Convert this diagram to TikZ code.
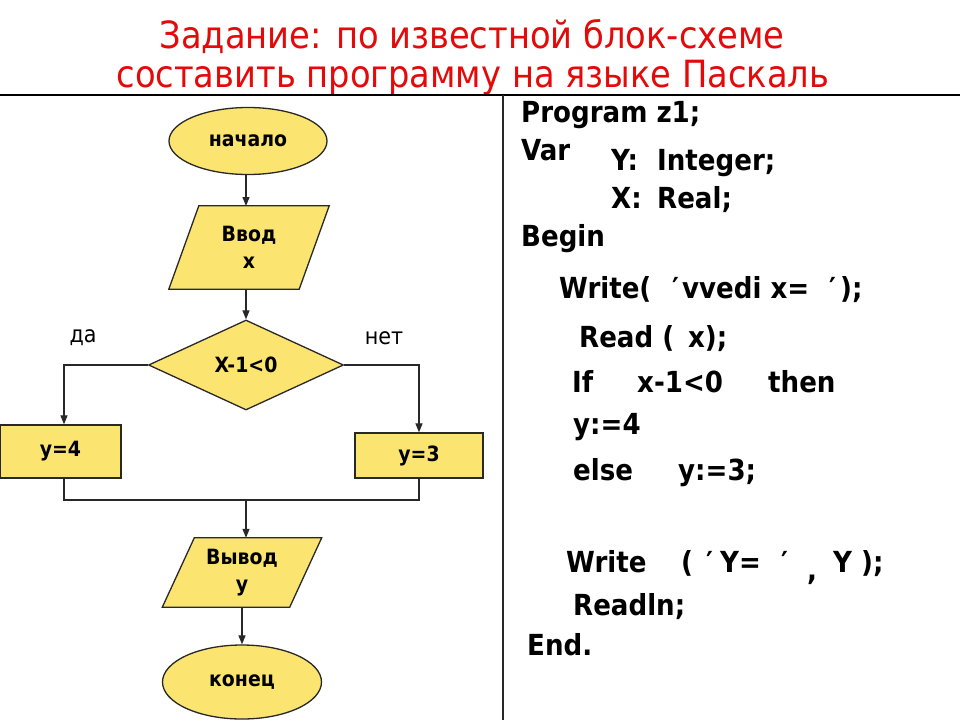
\documentclass[tikz,border=0pt]{standalone}
\usepackage{fontspec}
\setmainfont{DejaVu Sans Condensed}
\usetikzlibrary{shapes.geometric,arrows.meta,calc}
\definecolor{boxyellow}{RGB}{251,229,112}
\definecolor{titlered}{RGB}{228,10,10}
\definecolor{edge}{RGB}{40,40,40}
\begin{document}
\begin{tikzpicture}[x=1pt,y=-1pt,
  fc/.style={draw=edge,line width=1.3pt,fill=boxyellow,inner sep=0pt,font=\bfseries\fontsize{21}{24}\selectfont,align=center},
  term/.style={fc,ellipse},
  proc/.style={fc,rectangle},
  cond/.style={fc,diamond},
  iobox/.style={inner sep=0pt,font=\bfseries\fontsize{21}{27}\selectfont,align=center},
  para/.style={draw=edge,line width=1.3pt,fill=boxyellow},
  conn/.style={draw=edge,line width=1.2pt},
  arr/.style={conn,-{Triangle[length=9pt,width=7pt]}},
  lbl/.style={font=\fontsize{23}{26}\selectfont},
  code/.style={anchor=base west,inner sep=0pt,font=\bfseries\fontsize{29}{32}\selectfont},
  ttl/.style={text=titlered,font=\fontsize{37.5}{42}\selectfont}
]
\useasboundingbox (0,0) rectangle (960,720);
\fill[white] (0,0) rectangle (960,720);

% title
\node[ttl] (t1) at (472,37) {Задание: по известной блок-схеме};
\node[ttl] (t2) at (473,78) {составить программу на языке Паскаль};

% frame lines
\coordinate (hl) at (0,95);
\coordinate (hr) at (960,95);
\coordinate (vt) at (503,95);
\coordinate (vb) at (503,720);
\draw[line width=1.5pt,black] (hl) -- (hr);
\draw[line width=2pt,edge] (vt) -- (vb);

% flowchart
\node[term,minimum width=158pt,minimum height=67pt] (start) at (248,141) {начало};

\node[iobox,minimum width=130pt,minimum height=83pt] (in) at (249,247.5) {};
\path[para] ($(in.north west)+(15,0)$) -- ($(in.north east)+(15,0)$) -- ($(in.south east)+(-15,0)$) -- ($(in.south west)+(-15,0)$) -- cycle;
\node[iobox,minimum width=130pt,minimum height=83pt] (intext) at (in.center) {Ввод\\x};

\node[cond,minimum width=195pt,minimum height=90pt] (dec) at (246,365) {X-1<0};

\node[proc,minimum width=121pt,minimum height=53pt] (b4) at (60.5,451.5) {y=4};
\node[proc,minimum width=128pt,minimum height=45pt] (b3) at (419,455.5) {y=3};

\node[iobox,minimum width=127pt,minimum height=69pt] (out) at (242,572.5) {};
\path[para] ($(out.north west)+(16,0)$) -- ($(out.north east)+(16,0)$) -- ($(out.south east)+(-16,0)$) -- ($(out.south west)+(-16,0)$) -- cycle;
\node[iobox,minimum width=127pt,minimum height=69pt] (outtext) at (out.center) {Вывод\\y};

\node[term,minimum width=159pt,minimum height=74pt] (end) at (242,682) {конец};

\node[lbl] (da) at (83,338) {да};
\node[lbl] (net) at (384,338) {нет};

\coordinate (mrg) at (246,500);

\draw[arr] (start.south -| 246,0) -- (246,206);
\draw[arr] (246,289) -- (dec.north);
\draw[arr] (dec.west) -| ([xshift=3.5pt]b4.north);
\draw[arr] (dec.east) -| (b3.north);
\draw[conn] ([xshift=3.5pt]b4.south) |- (mrg) -| (b3.south);
\draw[arr] (mrg) -- (mrg |- out.north);
\draw[arr] (out.south -| end.north) -- (end.north);

% code
\node[code] (c1) at (521,122) {Program z1;};
\node[code] (c2) at (521,160) {Var};
\node[code] (c3a) at (611,170) {Y:};
\node[code] (c3b) at (657,170) {Integer;};
\node[code] (c4a) at (611,208) {X:};
\node[code] (c4b) at (657,208) {Real;};
\node[code] (c5) at (521,246) {Begin};
\node[code] (c6a) at (559,298) {Write(};
\node[code] (c6q1) at (672,298) {′};
\node[code] (c6b) at (682,298) {vvedi x=};
\node[code] (c6q2) at (829,298) {′};
\node[code] (c6c) at (840,298) {);};
\node[code] (c7) at (579,347) {Read ( \,x);};
\node[code] (c8a) at (572,392) {If};
\node[code] (c8b) at (637,392) {x-1<0};
\node[code] (c8c) at (768,392) {then};
\node[code] (c9) at (573,434) {y:=4};
\node[code] (c10a) at (573,480) {else};
\node[code] (c10b) at (678,480) {y:=3;};
\node[code] (c11a) at (566,572) {Write};
\node[code] (c11b) at (681,572) {(};
\node[code] (c11q1) at (706,572) {′};
\node[code] (c11c) at (720,572) {Y=};
\node[code] (c11q2) at (781,572) {′};
\node[code] (c11d) at (807,580) {,};
\node[code] (c11e) at (833,572) {Y );};
\node[code] (c12) at (573,615) {Readln;};
\node[code] (c13) at (527,655) {End.};
\end{tikzpicture}
\end{document}
